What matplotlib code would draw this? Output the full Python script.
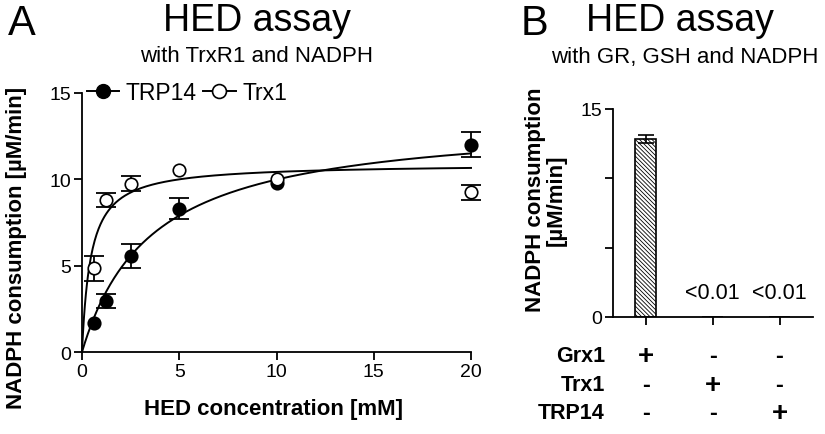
import numpy as np
import matplotlib
matplotlib.use("Agg")
import matplotlib.pyplot as plt

plt.rcParams['font.family'] = ['Liberation Sans', 'DejaVu Sans']
plt.rcParams['hatch.linewidth'] = 0.6

# panel A: HED concentration [mM] vs NADPH consumption [uM/min]
hed_conc = [0.625, 1.25, 2.5, 5, 10, 20]
trp14_mean = [1.66, 2.95, 5.55, 8.3, 9.8, 12.0]
trp14_err = [0.0, 0.4, 0.7, 0.6, 0.0, 0.72]
trx1_mean = [4.85, 8.8, 9.75, 10.55, 10.0, 9.25]
trx1_err = [0.73, 0.4, 0.45, 0.0, 0.0, 0.42]

# Michaelis-Menten fit parameters (Vmax, Km) as drawn
trp14_fit = (13.56, 3.58)
trx1_fit = (10.9, 0.45)

# panel B: bars
bar_names = ['Grx1', 'Trx1', 'TRP14']
bar_vals = [12.83, 0.0, 0.0]
bar_errs = [0.3, 0.0, 0.0]
bar_notes = ['', '<0.01', '<0.01']
signs = [['+', '-', '-'],
         ['-', '+', '-'],
         ['-', '-', '+']]

W, H = 825, 435
fig = plt.figure(figsize=(W / 100, H / 100), dpi=100)

def style(ax):
    for s in ['top', 'right']:
        ax.spines[s].set_visible(False)
    for s in ['left', 'bottom']:
        ax.spines[s].set_linewidth(1.3)
    ax.tick_params(direction='out', length=6, width=1.3, labelsize=14, pad=2)

def draw_points(ax, x, y, err, face):
    x, y, err = np.array(x), np.array(y), np.array(err)
    m = err > 0
    ax.errorbar(x[m], y[m], yerr=err[m], fmt='none', ecolor='black', capsize=7,
                elinewidth=1.3, capthick=1.3, clip_on=False, zorder=2)
    ax.plot(x, y, 'o', ms=9, mfc=face, mec='black', mew=1.2, clip_on=False, zorder=3)

# ---------- panel A
axA = fig.add_axes([82 / W, 1 - 353 / H, (471 - 82) / W, (353 - 94) / H])
style(axA)
xs = np.linspace(0, 20, 400)
for (vmax, km) in [trp14_fit, trx1_fit]:
    axA.plot(xs, vmax * xs / (km + xs), color='black', lw=1.4, clip_on=False)

draw_points(axA, hed_conc, trp14_mean, trp14_err, 'black')
draw_points(axA, hed_conc, trx1_mean, trx1_err, 'white')
axA.set_xlim(0, 20)
axA.set_ylim(0, 15)
axA.set_xticks([0, 5, 10, 15, 20])
axA.set_yticks([0, 5, 10, 15])

h1, = axA.plot([], [], '-o', color='black', ms=10, mfc='black', lw=1.4)
h2, = axA.plot([], [], '-o', color='black', ms=10, mfc='white', mew=1.2, lw=1.4)
axA.legend([h1, h2], ['TRP14', 'Trx1'], loc='center left', bbox_to_anchor=(0.0, 1.0),
           ncol=2, frameon=False, fontsize=16.5, handlelength=1.4, handletextpad=0.3,
           columnspacing=0.3, borderaxespad=0.0, borderpad=0.2)

fig.text(17 / W, 1 - 248 / H, 'NADPH consumption [µM/min]', rotation=90,
         ha='center', va='center', fontsize=16, fontweight='bold')
fig.text(273 / W, 1 - 410 / H, 'HED concentration [mM]', ha='center', va='center',
         fontsize=16, fontweight='bold')

fig.text(22 / W, 1 - 24 / H, 'A', ha='center', va='center', fontsize=30)
fig.text(257 / W, 1 - 21 / H, 'HED assay', ha='center', va='center', fontsize=27)
fig.text(257 / W, 1 - 57 / H, 'with TrxR1 and NADPH', ha='center', va='center', fontsize=16)

# ---------- panel B
axB = fig.add_axes([613 / W, 1 - 318 / H, (813 - 613) / W, (318 - 110) / H])
style(axB)
pos = np.arange(len(bar_names))
axB.bar(pos, bar_vals, width=0.32, color='white', edgecolor='black', lw=1.2,
        hatch='\\\\\\\\\\\\\\\\')
axB.errorbar(pos[:1], bar_vals[:1], yerr=bar_errs[:1], fmt='none', ecolor='black',
             capsize=6, elinewidth=1.2, capthick=1.2)
for p, note in zip(pos, bar_notes):
    if note:
        axB.text(p, 1.0, note, ha='center', va='bottom', fontsize=15.5)
axB.set_xlim(-0.49, 2.5)
axB.set_ylim(0, 15)
axB.set_yticks([0, 5, 10, 15])
axB.set_yticklabels(['0', '', '', '15'])
axB.set_xticks(pos)
axB.set_xticklabels([])

row_y = [357, 386, 414]
for name, ry, row in zip(bar_names, row_y, signs):
    fig.text(605 / W, 1 - ry / H, name, ha='right', va='center', fontsize=15.5,
             fontweight='bold')
    for p, s in zip(pos, row):
        xf = axB.transData.transform((p, 0))[0] / fig.bbox.width
        fig.text(xf, 1 - ry / H, s, ha='center', va='center',
                 fontsize=20 if s == '+' else 17, fontweight='bold')

fig.text(546 / W, 1 - 200 / H, 'NADPH consumption\n[µM/min]', rotation=90,
         ha='center', va='center', fontsize=16, fontweight='bold', linespacing=1.0)

fig.text(535 / W, 1 - 24 / H, 'B', ha='center', va='center', fontsize=30)
fig.text(680 / W, 1 - 21 / H, 'HED assay', ha='center', va='center', fontsize=27)
fig.text(685 / W, 1 - 57 / H, 'with GR, GSH and NADPH', ha='center', va='center', fontsize=16)

fig.savefig('out.png', dpi=100)
